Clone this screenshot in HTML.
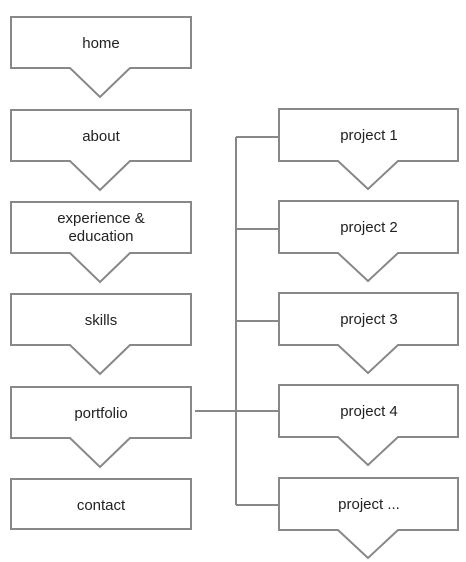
<!DOCTYPE html>
<html><head><meta charset="utf-8"><style>
html,body{margin:0;padding:0;background:#fff;width:466px;height:562px;overflow:hidden}
svg text{font-family:"Liberation Sans",sans-serif;font-size:15px;fill:#222;text-anchor:middle}
</style></head><body>
<svg width="466" height="562" viewBox="0 0 466 562" xmlns="http://www.w3.org/2000/svg">
<g fill="#fff" stroke="#888" stroke-width="2">
<path d="M11,17 H191 V68 H130 L100,97 L70,68 H11 Z"/>
<path d="M11,110 H191 V161 H130 L100,190 L70,161 H11 Z"/>
<path d="M11,202 H191 V253 H130 L100,282 L70,253 H11 Z"/>
<path d="M11,294 H191 V345 H130 L100,374 L70,345 H11 Z"/>
<path d="M11,387 H191 V438 H130 L100,467 L70,438 H11 Z"/>
<rect x="11" y="479" width="180" height="50"/>
<path d="M279,109 H458 V161 H398 L368,189 L338,161 H279 Z"/>
<path d="M279,201 H458 V253 H398 L368,281 L338,253 H279 Z"/>
<path d="M279,293 H458 V345 H398 L368,373 L338,345 H279 Z"/>
<path d="M279,385 H458 V437 H398 L368,465 L338,437 H279 Z"/>
<path d="M279,478 H458 V530 H398 L368,558 L338,530 H279 Z"/>
</g>
<g fill="none" stroke="#888" stroke-width="2">
<path d="M236,137 V505"/>
<path d="M236,137 H279 M236,229 H279 M236,321 H279 M195,411 H279 M236,505 H279"/>
</g>
<text x="101" y="48">home</text>
<text x="101" y="141">about</text>
<text x="101" y="223">experience &amp;</text>
<text x="101" y="241">education</text>
<text x="101" y="325">skills</text>
<text x="101" y="418">portfolio</text>
<text x="101" y="510">contact</text>
<text x="369" y="140">project 1</text>
<text x="369" y="232">project 2</text>
<text x="369" y="324">project 3</text>
<text x="369" y="416">project 4</text>
<text x="369" y="509">project ...</text>
</svg>
</body></html>
